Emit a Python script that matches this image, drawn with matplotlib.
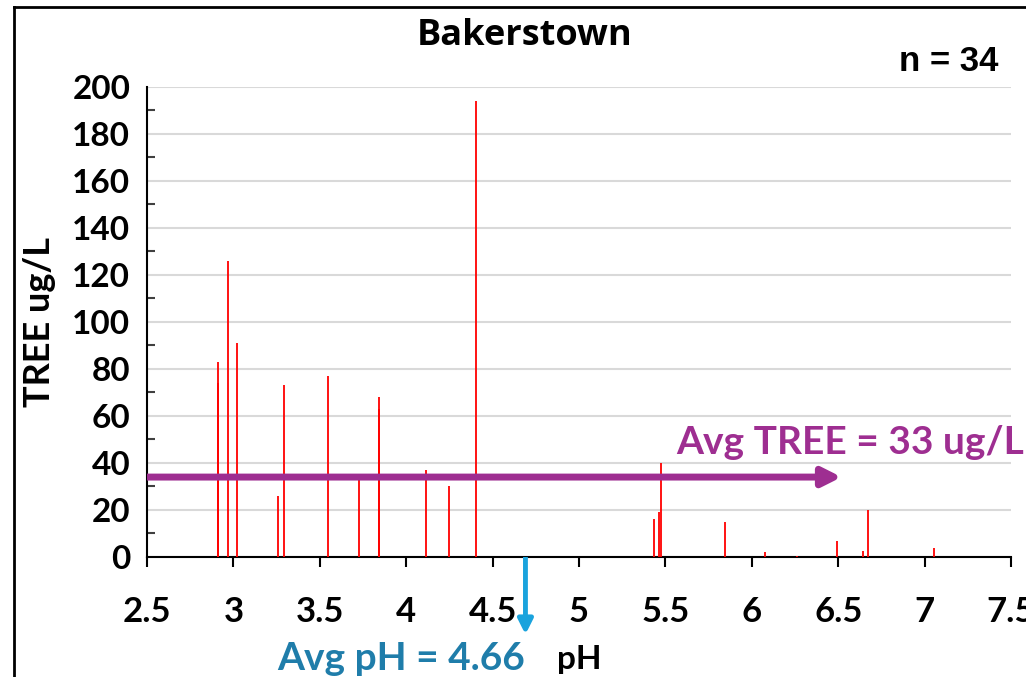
import matplotlib
matplotlib.use("Agg")
import matplotlib.pyplot as plt
from matplotlib.lines import Line2D
from matplotlib.ticker import MultipleLocator

# pH of each sample and its TREE value (ug/L)
ph = [2.908, 2.908, 2.966, 3.018, 3.256, 3.295, 3.547, 3.726, 3.845, 3.845,
      4.117, 4.245, 4.405, 5.433, 5.464, 5.472, 5.843, 6.074, 6.264, 6.494,
      6.644, 6.673, 7.054]
tree = [83, 74, 126, 91, 26, 73, 77, 33, 68, 63,
        37, 30, 194, 16, 19, 40, 15, 2, 0.5, 7,
        2.5, 20, 4]

avg_tree = 33
avg_ph = 4.66
n_samples = 34

purple = "#9E2E91"
blue_arrow = "#1AA3DD"
blue_text = "#1F7DAA"

plt.rcParams["font.family"] = ["Lato", "DejaVu Sans"]
plt.rcParams["font.weight"] = "bold"

fig = plt.figure(figsize=(10.26, 6.77), dpi=100)
ax = fig.add_axes([0.1433, 0.1773, 0.8421, 0.6942])

ax.vlines(ph, 0, tree, colors="red", linewidth=1.3, zorder=3)

ax.set_xlim(2.5, 7.5)
ax.set_ylim(0, 200)
ax.xaxis.set_major_locator(MultipleLocator(0.5))
ax.yaxis.set_major_locator(MultipleLocator(20))
ax.yaxis.set_minor_locator(MultipleLocator(10))
ax.set_xticklabels([("%g" % v) for v in ax.get_xticks()])

ax.grid(axis="y", which="major", color="#d9d9d9", linewidth=1.5)
ax.set_axisbelow(True)
for s in ["top", "right"]:
    ax.spines[s].set_visible(False)
for s in ["left", "bottom"]:
    ax.spines[s].set_linewidth(1.5)

ax.tick_params(axis="x", direction="out", length=7, width=1.5, pad=21, labelsize=25)
ax.tick_params(axis="y", which="major", length=0, pad=12, labelsize=24)
ax.tick_params(axis="y", which="minor", direction="in", length=6, width=1.5, color="#404040")
for lab in ax.get_xticklabels() + ax.get_yticklabels():
    lab.set_fontweight("bold")

ax.set_xlabel("pH", fontsize=24, fontweight="bold", labelpad=12)
ax.set_ylabel("TREE ug/L", fontsize=26, fontweight="bold", labelpad=12)
fig.text(525 / 1026, 1 - 36 / 677, "Bakerstown", ha="center", va="center",
         fontsize=26, fontweight="bold", family="Open Sans")

ax.text(0.985, 1.055, "n = %d" % n_samples, transform=ax.transAxes, ha="right",
        va="center", fontsize=25, fontweight="bold", family="Liberation Sans")

# average TREE arrow
ax.annotate("", xy=(6.52, 34), xytext=(2.5, 34),
            arrowprops=dict(arrowstyle="-|>", color=purple, lw=5, mutation_scale=28,
                            shrinkA=0, shrinkB=0, capstyle="butt"), zorder=4)
ax.text(5.56, 48.5, "Avg TREE = %d ug/L" % avg_tree, color=purple, fontsize=28,
        fontweight="bold", ha="left", va="center", clip_on=False)

# average pH arrow
ax.annotate("", xy=(4.69, -33), xytext=(4.69, 0), annotation_clip=False,
            arrowprops=dict(arrowstyle="-|>", color=blue_arrow, lw=3.5, mutation_scale=22,
                            shrinkA=0, shrinkB=0, capstyle="butt"))
ax.text(4.69, -43, "Avg pH = %.2f" % avg_ph, color=blue_text, fontsize=28,
        fontweight="bold", ha="right", va="center", clip_on=False)

# outer chart border (only top and left edges show in the crop)
fig.add_artist(Line2D([14 / 1026, 14 / 1026], [0, 1 - 7 / 677], color="black", lw=2))
fig.add_artist(Line2D([14 / 1026, 1], [1 - 7 / 677, 1 - 7 / 677], color="black", lw=2))

fig.savefig("out.png", dpi=100, facecolor="white")
